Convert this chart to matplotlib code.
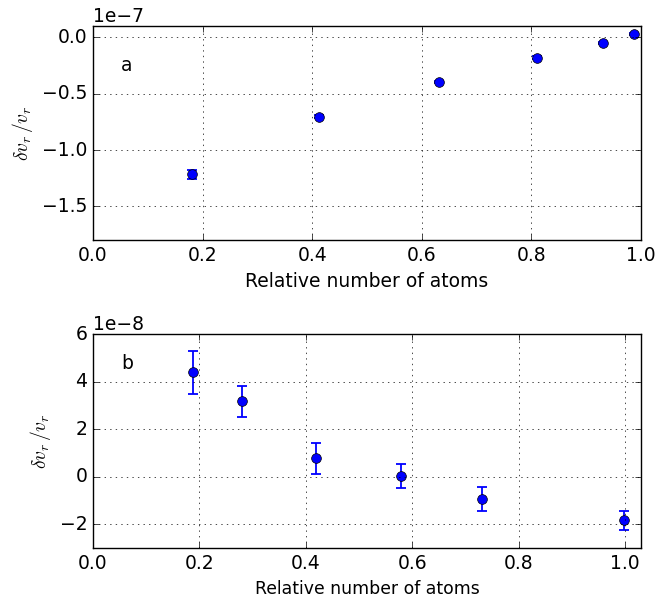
import numpy as np
import matplotlib
matplotlib.use('Agg')
import matplotlib.pyplot as plt

# --- data ---
# panel a, values in units of 1e-7
x_a = [0.180, 0.413, 0.631, 0.811, 0.930, 0.987]
y_a = [-1.213, -0.704, -0.396, -0.180, -0.050, 0.030]
err_a = [0.040, 0.015, 0.012, 0.012, 0.012, 0.012]

# panel b, values in units of 1e-8
x_b = [0.188, 0.280, 0.420, 0.579, 0.732, 0.999]
y_b = [4.40, 3.17, 0.78, 0.05, -0.92, -1.82]
err_b = [0.90, 0.65, 0.64, 0.50, 0.50, 0.40]

plt.style.use('classic')
plt.rcParams['mathtext.fontset'] = 'cm'
plt.rcParams['font.size'] = 13.5
plt.rcParams['axes.labelsize'] = 13.5

fig = plt.figure(figsize=(6.58, 6.03), dpi=100, facecolor='white')
ax1 = fig.add_axes([0.1413, 0.6015, 0.8328, 0.3554])
ax2 = fig.add_axes([0.1413, 0.0907, 0.8328, 0.3554])

# --- panel a ---
ax1.errorbar(x_a, np.array(y_a) * 1e-7, yerr=np.array(err_a) * 1e-7,
             fmt='o', color='b', ecolor='b', mec='k', ms=7, capsize=3.5,
             elinewidth=1.3, capthick=1.3)
ax1.set_xlim(0, 1.0)
ax1.set_ylim(-1.8e-7, 0.1e-7)
ax1.set_yticks(np.array([0.0, -0.5, -1.0, -1.5]) * 1e-7)
ax1.grid(True)
ax1.set_xlabel('Relative number of atoms')
ax1.set_ylabel(r'$\delta v_r\,/v_r$', fontsize=14)
ax1.text(0.062, 0.815, 'a', transform=ax1.transAxes, fontsize=13.5,
         ha='center', va='center')

# --- panel b ---
ax2.errorbar(x_b, np.array(y_b) * 1e-8, yerr=np.array(err_b) * 1e-8,
             fmt='o', color='b', ecolor='b', mec='k', ms=7, capsize=3.5,
             elinewidth=1.3, capthick=1.3)
ax2.set_xlim(0, 1.03)
ax2.set_ylim(-3e-8, 6e-8)
ax2.set_yticks(np.array([-2, 0, 2, 4, 6]) * 1e-8)
ax2.grid(True)
ax2.set_xlabel('Relative number of atoms', fontsize=12.4)
ax2.set_ylabel(r'$\delta v_r\,/v_r$', fontsize=14)
ax2.text(0.062, 0.862, 'b', transform=ax2.transAxes, fontsize=13.5,
         ha='center', va='center')

fig.savefig('out.png', dpi=100, facecolor='white')
